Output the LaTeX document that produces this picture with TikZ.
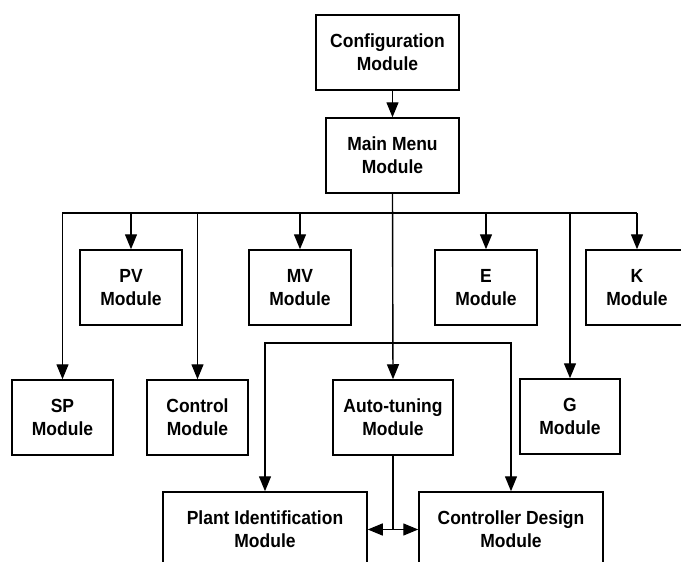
\documentclass[tikz,border=0pt]{standalone}
\usepackage{fontspec}
\setmainfont{Liberation Sans}[FakeStretch=0.92]
\usetikzlibrary{arrows.meta, positioning}

\begin{document}
\begin{tikzpicture}[
  x=1pt, y=-1pt,
  every node/.style={font=\fontsize{19}{23}\selectfont\bfseries},
  module/.style={rectangle, draw, line width=1.5pt, minimum width=102pt,
                 minimum height=75pt, align=center, inner sep=0pt},
  arrow/.style={-{Triangle[length=15pt, width=12pt]}, line width=1.4pt},
  link/.style={line width=1.4pt},
]
\useasboundingbox (0,0) rectangle (681,562);
\clip (0,0) rectangle (681,562);
% top chain
\node[module, minimum width=143pt] (conf) at (387.5,52.5) {Configuration\\Module};
\node[module, minimum width=133pt] (main) at (392.5,155.5) {Main Menu\\Module};
% first row
\node[module] (pv)   at (131,287.5) {PV\\Module};
\node[module] (mv)   at (300,287.5) {MV\\Module};
\node[module] (e)    at (486,287.5) {E\\Module};
\node[module] (k)    at (637,287.5) {K\\Module};
% second row
\node[module, minimum width=101pt] (sp)   at (62.5,417.5) {SP\\Module};
\node[module, minimum width=101pt] (ctrl) at (197.5,417.5) {Control\\Module};
\node[module, minimum width=120pt] (auto) at (393,417.5) {Auto-tuning\\Module};
\node[module, minimum width=100pt] (g)    at (570,416.5) {G\\Module};
% auto-tuning sub modules
\node[module, minimum width=204pt] (plant) at (265,529.5) {Plant Identification\\Module};
\node[module, minimum width=184pt] (cdes)  at (511,529.5) {Controller Design\\Module};
\coordinate (bus) at (0,213);
\coordinate (sub) at (0,343);
\coordinate (tee) at (auto.south |- plant.east);
\draw[arrow] (conf.south -| main.north) -- (main.north);
\draw[arrow] (main.south) -- (auto.north);
\draw[arrow] (bus -| k.north) -- (bus -| sp.north) -- (sp.north);
\draw[arrow] (bus -| k.north) -- (k.north);
\foreach \m in {pv, ctrl, mv, e, g}
  \draw[arrow] (bus -| \m.north) -- (\m.north);
\draw[arrow] (sub -| auto.north) -- (sub -| plant.north) -- (plant.north);
\draw[arrow] (sub -| auto.north) -- (sub -| cdes.north) -- (cdes.north);
\draw[link] (auto.south) -- (tee);
\draw[arrow] (tee) -- (plant.east);
\draw[arrow] (tee) -- (cdes.west);
\end{tikzpicture}
\end{document}
